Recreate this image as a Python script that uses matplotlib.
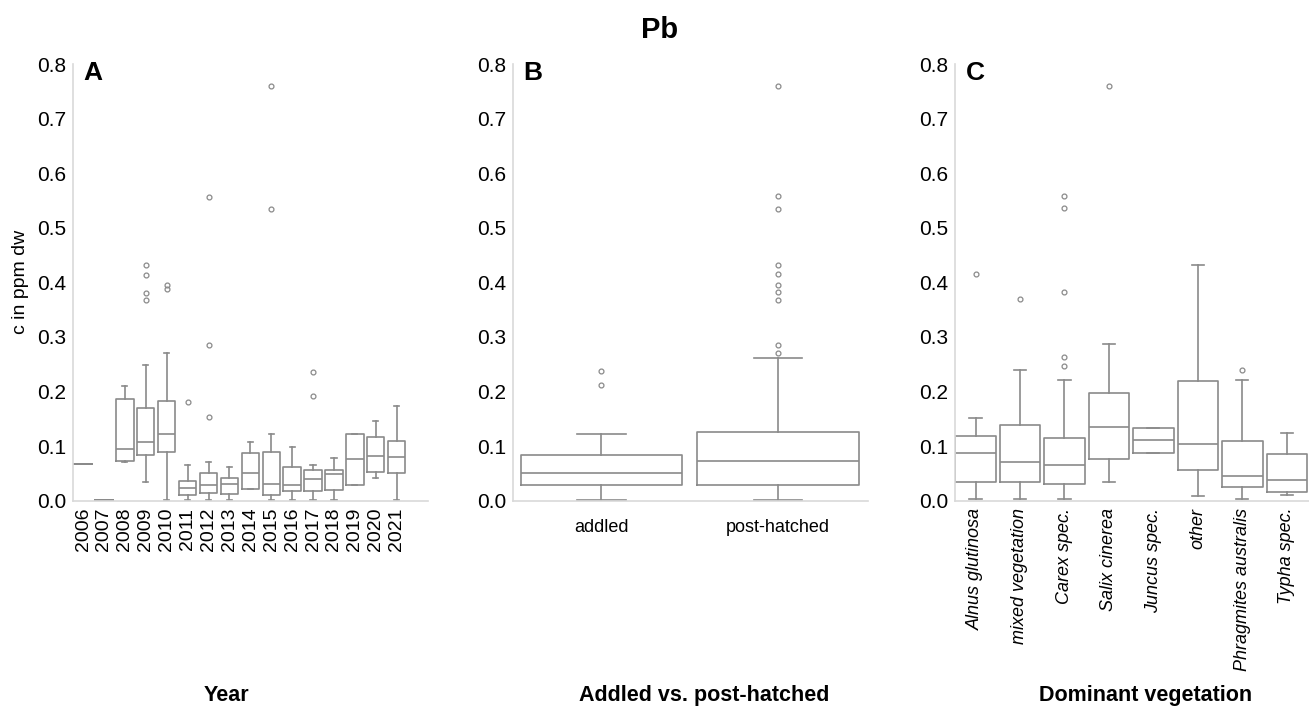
import matplotlib
matplotlib.use("Agg")
import matplotlib.pyplot as plt

plt.rcParams['font.family'] = ['Liberation Sans', 'DejaVu Sans']

# panel A: year
years = ['2006', '2007', '2008', '2009', '2010', '2011', '2012', '2013',
         '2014', '2015', '2016', '2017', '2018', '2019', '2020', '2021']
year_lo = [0.068, 0.001, 0.070, 0.035, 0.001, 0.001, 0.001, 0.001,
           0.021, 0.001, 0.001, 0.001, 0.001, 0.029, 0.042, 0.001]
year_q1 = [0.068, 0.001, 0.072, 0.083, 0.090, 0.010, 0.015, 0.012,
           0.022, 0.010, 0.018, 0.018, 0.020, 0.029, 0.053, 0.050]
year_med = [0.068, 0.001, 0.095, 0.108, 0.122, 0.023, 0.029, 0.030,
            0.051, 0.031, 0.029, 0.040, 0.048, 0.077, 0.082, 0.080]
year_q3 = [0.068, 0.001, 0.187, 0.169, 0.182, 0.036, 0.050, 0.042,
           0.087, 0.090, 0.062, 0.056, 0.056, 0.123, 0.117, 0.109]
year_hi = [0.068, 0.001, 0.211, 0.249, 0.270, 0.066, 0.070, 0.062,
           0.108, 0.122, 0.098, 0.065, 0.078, 0.123, 0.146, 0.174]
year_fliers = [[], [], [], [0.431, 0.414, 0.381, 0.367], [0.396, 0.388],
               [0.181], [0.557, 0.285, 0.154], [], [], [0.760, 0.535],
               [], [0.236, 0.191], [], [], [], []]

# panel B: addled vs post-hatched
status = ['addled', 'post-hatched']
status_lo = [0.002, 0.002]
status_q1 = [0.029, 0.029]
status_med = [0.050, 0.072]
status_q3 = [0.084, 0.125]
status_hi = [0.122, 0.262]
status_fliers = [[0.237, 0.212],
                 [0.760, 0.558, 0.535, 0.432, 0.415, 0.395, 0.382, 0.368,
                  0.286, 0.270]]

# panel C: dominant vegetation
veg = ['Alnus glutinosa', 'mixed vegetation', 'Carex spec.', 'Salix cinerea',
       'Juncus spec.', 'other', 'Phragmites australis', 'Typha spec.']
veg_lo = [0.004, 0.004, 0.004, 0.035, 0.0875, 0.009, 0.004, 0.011]
veg_q1 = [0.035, 0.034, 0.031, 0.076, 0.0875, 0.056, 0.025, 0.016]
veg_med = [0.088, 0.071, 0.066, 0.135, 0.111, 0.103, 0.046, 0.038]
veg_q3 = [0.119, 0.139, 0.114, 0.198, 0.133, 0.220, 0.110, 0.086]
veg_hi = [0.152, 0.239, 0.222, 0.287, 0.133, 0.432, 0.221, 0.124]
veg_fliers = [[0.416], [0.369], [0.559, 0.536, 0.382, 0.264, 0.246],
              [0.760], [], [], [0.240], []]


def stats(lo, q1, med, q3, hi, fl):
    return [dict(whislo=a, q1=b, med=c, q3=d, whishi=e, fliers=f)
            for a, b, c, d, e, f in zip(lo, q1, med, q3, hi, fl)]


grey = '#8a8a8a'
spine = '#d9d9d9'

fig = plt.figure(figsize=(13.09, 7.08), dpi=100)
axA = fig.add_axes([0.0558, 0.2928, 0.2712, 0.6168])
axB = fig.add_axes([0.3919, 0.2928, 0.2712, 0.6168])
axC = fig.add_axes([0.7296, 0.2928, 0.2704, 0.6168])


def draw(ax, st, width, labels, xlim):
    n = len(st)
    ax.bxp(st, positions=range(n), widths=width, capwidths=width * 0.3,
           showfliers=True, patch_artist=False,
           boxprops=dict(color=grey, lw=1.2),
           medianprops=dict(color=grey, lw=1.2),
           whiskerprops=dict(color=grey, lw=1.2),
           capprops=dict(color=grey, lw=1.2),
           flierprops=dict(marker='o', markersize=3.5, markerfacecolor='none',
                           markeredgecolor=grey, markeredgewidth=0.9))
    ax.set_xlim(*xlim)
    ax.set_ylim(0, 0.8)
    ax.set_yticks([i / 10 for i in range(9)])
    ax.set_yticklabels(['%.1f' % (i / 10) for i in range(9)], fontsize=15)
    ax.set_xticks(range(n))
    for s in ['top', 'right']:
        ax.spines[s].set_visible(False)
    for s in ['left', 'bottom']:
        ax.spines[s].set_color(spine)
        ax.spines[s].set_linewidth(1.2)
    ax.tick_params(length=0, pad=5)


draw(axA, stats(year_lo, year_q1, year_med, year_q3, year_hi, year_fliers),
     0.83, years, (-0.48, 16.5))
axA.set_xticklabels(years, rotation=90, fontsize=14)
axA.set_ylabel('c in ppm dw', fontsize=14, labelpad=6)

draw(axB, stats(status_lo, status_q1, status_med, status_q3, status_hi,
                status_fliers), 0.915, status, (-0.5, 1.51))
axB.set_xticklabels(status, fontsize=13)
axB.tick_params(axis='x', pad=13)

draw(axC, stats(veg_lo, veg_q1, veg_med, veg_q3, veg_hi, veg_fliers),
     0.91, veg, (-0.46, 7.5))
axC.set_xticklabels(veg, rotation=90, fontsize=13, style='italic')

for ax, letter in [(axA, 'A'), (axB, 'B'), (axC, 'C')]:
    ax.text(0.03, 1.008, letter, transform=ax.transAxes, fontsize=19,
            fontweight='bold', va='top', ha='left')

fig.text(0.5035, 0.958, 'Pb', fontsize=21, fontweight='bold',
         ha='center', va='center')
fig.text(0.173, 0.017, 'Year', fontsize=15.5, fontweight='bold',
         ha='center', va='center')
fig.text(0.538, 0.017, 'Addled vs. post-hatched', fontsize=15.5,
         fontweight='bold', ha='center', va='center')
fig.text(0.875, 0.017, 'Dominant vegetation', fontsize=15.5,
         fontweight='bold', ha='center', va='center')

fig.savefig('out.png', dpi=100)
